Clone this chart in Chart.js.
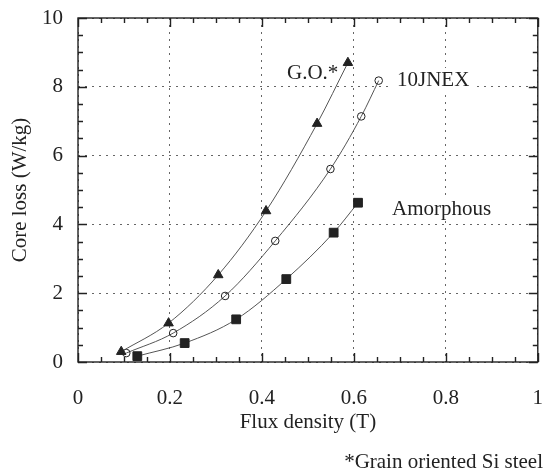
<!DOCTYPE html>
<html lang="en">
<head>
  <meta charset="UTF-8">
  <title>Core loss</title>
  <script src="https://cdn.jsdelivr.net/npm/chart.js"></script>
  <style>
    html, body {
      margin: 0;
      padding: 0;
      background: #fff;
    }
    canvas {
      display: block;
    }
  </style>
</head>
<body>

<canvas id="lossChart" width="545" height="473"></canvas>

<script>
// values
const xTicks = [0, 0.2, 0.4, 0.6, 0.8, 1];
const yTicks = [0, 2, 4, 6, 8, 10];

const goX = [0.094, 0.197, 0.305, 0.409, 0.520, 0.587];
const goY = [0.30, 1.13, 2.53, 4.39, 6.93, 8.70];

const jnexX = [0.105, 0.207, 0.320, 0.429, 0.549, 0.616, 0.654];
const jnexY = [0.26, 0.84, 1.92, 3.52, 5.61, 7.14, 8.18];

const amX = [0.129, 0.232, 0.344, 0.453, 0.556, 0.609];
const amY = [0.17, 0.55, 1.24, 2.41, 3.76, 4.63];

const seriesNames = ['G.O.*', '10JNEX', 'Amorphous'];
const xTitle = 'Flux density (T)';
const yTitle = 'Core loss (W/kg)';
const footnote = '*Grain oriented Si steel';

const FONT = '"Liberation Serif", "Times New Roman", serif';
const INK = '#222';

function pts(xs, ys) {
  return xs.map((x, i) => ({ x: x, y: ys[i] }));
}

function serie(label, data, style, radius, fill) {
  return {
    label: label,
    data: data,
    showLine: true,
    borderColor: '#555',
    borderWidth: 1,
    cubicInterpolationMode: 'monotone',
    pointStyle: style,
    pointRadius: radius,
    pointBorderColor: INK,
    pointBorderWidth: 1,
    pointBackgroundColor: fill
  };
}

// frame, inward ticks, in-plot labels and footnote
const decor = {
  id: 'decor',
  beforeDatasetsDraw(chart) {
    const ctx = chart.ctx;
    const a = chart.chartArea;
    const sx = chart.scales.x;
    const sy = chart.scales.y;

    ctx.save();
    ctx.strokeStyle = INK;
    ctx.lineWidth = 1.4;

    // x ticks every 0.05, major every 0.2 (bottom and top)
    for (let i = 0; i <= 20; i++) {
      const v = i * 0.05;
      const px = Math.round(sx.getPixelForValue(v)) + 0.5;
      const len = i % 4 === 0 ? 9 : 5;
      ctx.beginPath();
      ctx.moveTo(px, a.bottom);
      ctx.lineTo(px, a.bottom - len);
      ctx.moveTo(px, a.top);
      ctx.lineTo(px, a.top + len);
      ctx.stroke();
    }
    // y ticks every 0.5, major every 2 (left and right)
    for (let i = 0; i <= 20; i++) {
      const v = i * 0.5;
      const py = Math.round(sy.getPixelForValue(v)) + 0.5;
      const len = i % 4 === 0 ? 9 : 5;
      ctx.beginPath();
      ctx.moveTo(a.left, py);
      ctx.lineTo(a.left + len, py);
      ctx.moveTo(a.right, py);
      ctx.lineTo(a.right - len, py);
      ctx.stroke();
    }
    ctx.strokeRect(a.left, a.top, a.right - a.left, a.bottom - a.top);

    // series labels with white boxes over the grid
    ctx.font = '21px ' + FONT;
    ctx.textBaseline = 'middle';
    ctx.textAlign = 'left';
    const labs = [
      [seriesNames[0], 287, 72],
      [seriesNames[1], 397, 79],
      [seriesNames[2], 392, 208]
    ];
    labs.forEach(l => {
      const w = ctx.measureText(l[0]).width;
      ctx.fillStyle = '#fff';
      ctx.fillRect(l[1] - 4, l[2] - 11, w + 8, 22);
      ctx.fillStyle = INK;
      ctx.fillText(l[0], l[1], l[2] + 1);
    });

    // footnote
    ctx.textAlign = 'right';
    ctx.textBaseline = 'alphabetic';
    ctx.fillText(footnote, 543, 468);
    ctx.restore();
  }
};

const ctx = document.getElementById('lossChart').getContext('2d');

new Chart(ctx, {
  type: 'scatter',
  data: {
    datasets: [
      serie(seriesNames[0], pts(goX, goY), 'triangle', 5.5, INK),
      serie(seriesNames[1], pts(jnexX, jnexY), 'circle', 3.8, 'rgba(0,0,0,0)'),
      serie(seriesNames[2], pts(amX, amY), 'rect', 6.2, INK)
    ]
  },
  options: {
    responsive: false,
    animation: false,
    layout: { padding: { top: 18, right: 5, left: 0, bottom: 0 } },
    plugins: {
      legend: { display: false },
      tooltip: { enabled: false }
    },
    scales: {
      x: {
        type: 'linear',
        min: 0,
        max: 1,
        afterFit(scale) { scale.height = 111; },
        afterBuildTicks(scale) { scale.ticks = xTicks.map(v => ({ value: v })); },
        ticks: {
          color: INK,
          padding: 0,
          maxRotation: 0,
          font: { family: FONT, size: 21 },
          callback: v => String(v)
        },
        grid: { color: '#666', lineWidth: 1, drawTicks: true, tickLength: 24, tickColor: 'rgba(0,0,0,0)' },
        border: { display: false, dash: [2, 5] },
        title: {
          display: true,
          text: xTitle,
          color: INK,
          font: { family: FONT, size: 21 },
          padding: { top: 0, bottom: 38 }
        }
      },
      y: {
        type: 'linear',
        min: 0,
        max: 10,
        afterFit(scale) { scale.width = 78; },
        afterBuildTicks(scale) { scale.ticks = yTicks.map(v => ({ value: v })); },
        ticks: {
          color: INK,
          padding: 0,
          font: { family: FONT, size: 21 }
        },
        grid: { color: '#666', lineWidth: 1, drawTicks: true, tickLength: 15, tickColor: 'rgba(0,0,0,0)' },
        border: { display: false, dash: [2, 5] },
        title: {
          display: true,
          text: yTitle,
          color: INK,
          font: { family: FONT, size: 21 },
          padding: { top: 8, bottom: 0 }
        }
      }
    }
  },
  plugins: [decor]
});
</script>

</body>
</html>
